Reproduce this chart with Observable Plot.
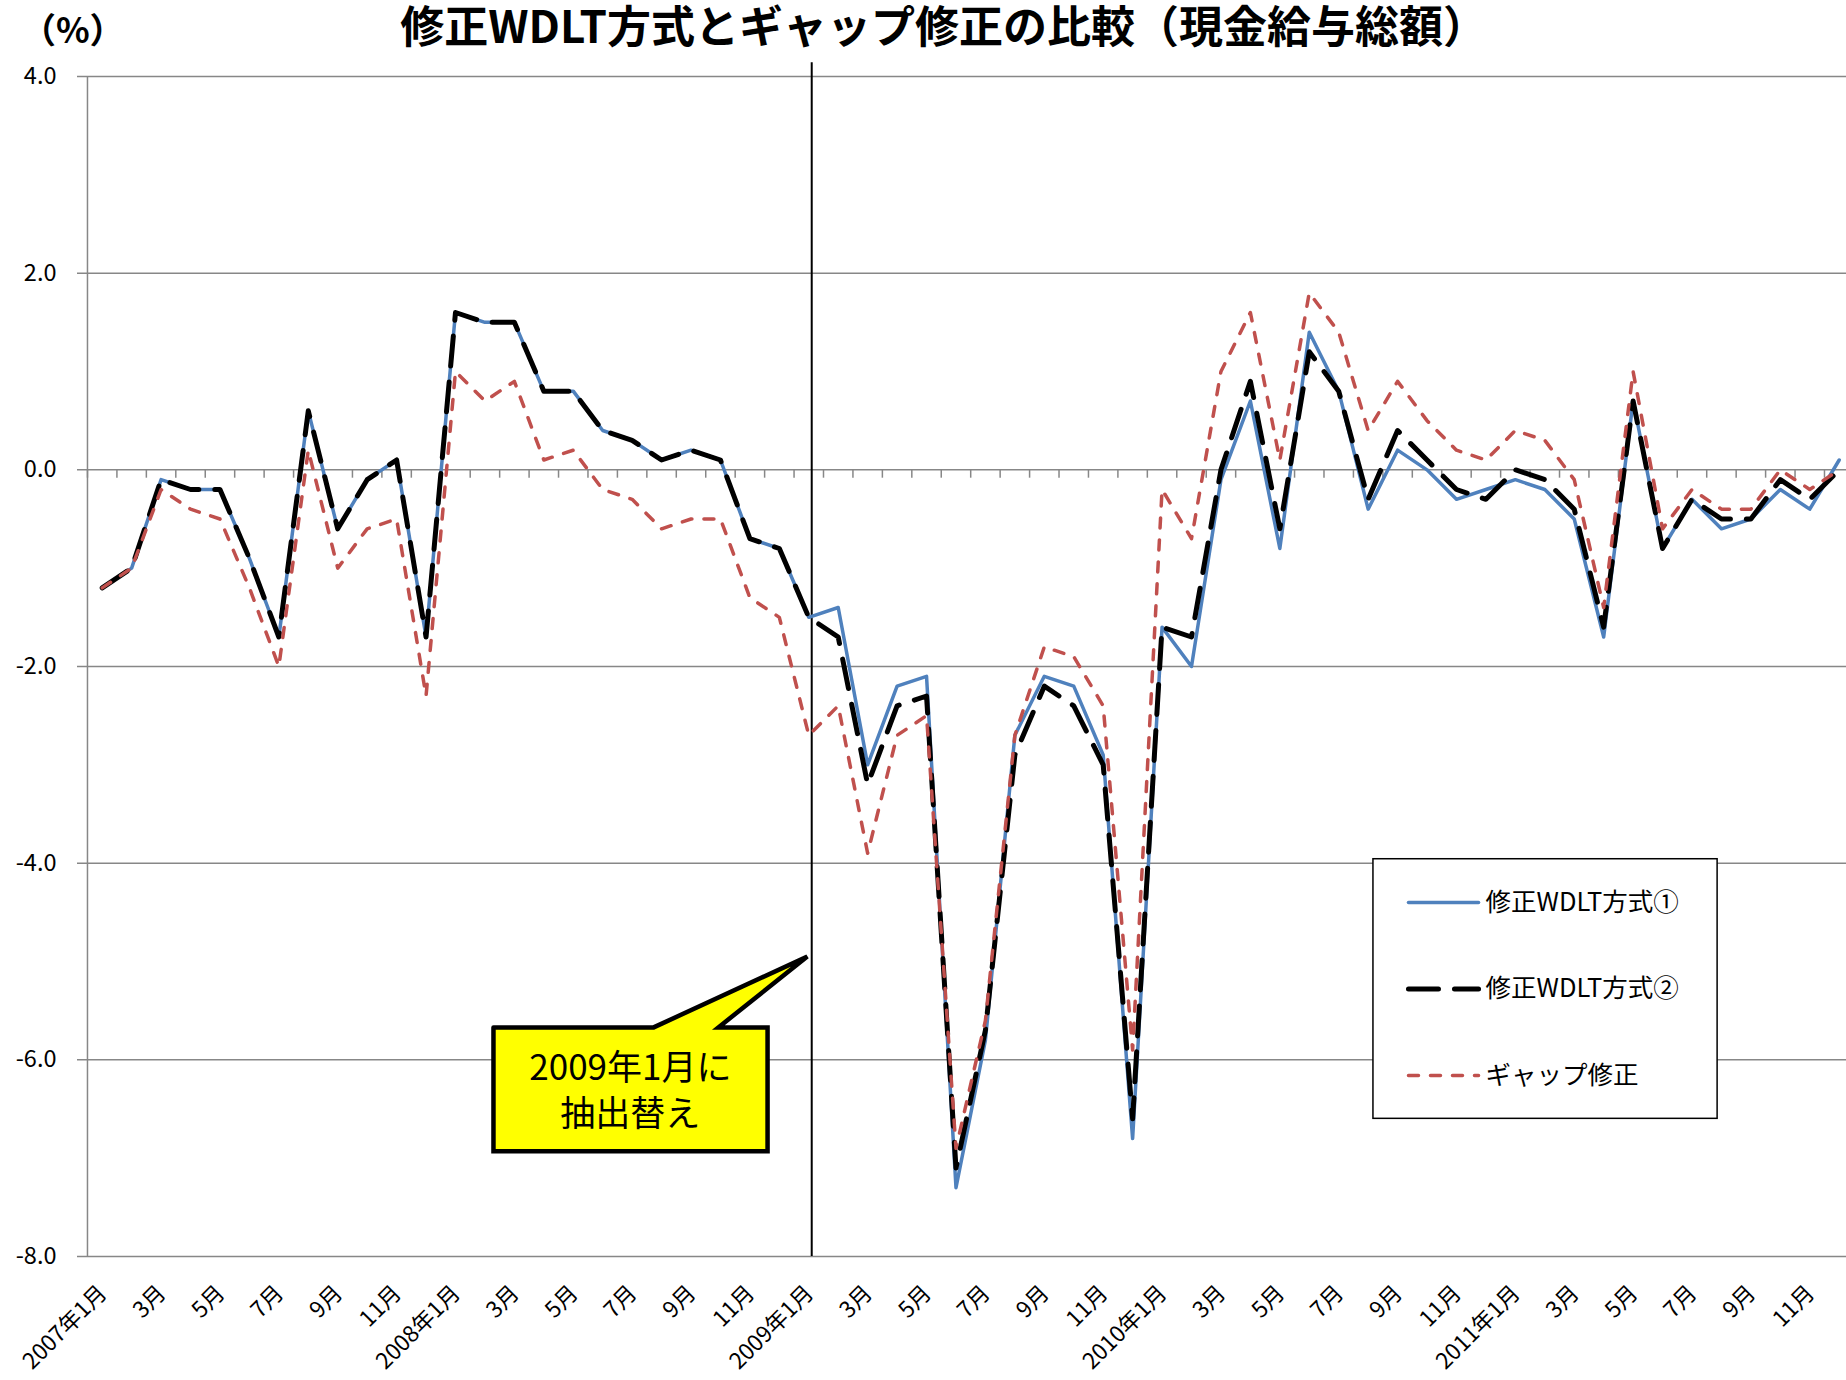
<!DOCTYPE html>
<html><head><meta charset="utf-8">
<script src="https://cdn.jsdelivr.net/npm/d3@7"></script>
<script src="https://cdn.jsdelivr.net/npm/@observablehq/plot@0.6"></script>
<style>html,body{margin:0;padding:0;background:#fff;overflow:hidden}</style>
</head><body><div id="chart"></div>
<script>
const monthLabels = [
  "2007年1月","2月","3月","4月","5月","6月","7月","8月","9月","10月","11月","12月",
  "2008年1月","2月","3月","4月","5月","6月","7月","8月","9月","10月","11月","12月",
  "2009年1月","2月","3月","4月","5月","6月","7月","8月","9月","10月","11月","12月",
  "2010年1月","2月","3月","4月","5月","6月","7月","8月","9月","10月","11月","12月",
  "2011年1月","2月","3月","4月","5月","6月","7月","8月","9月","10月","11月","12月"
];
const wdlt1 = [
  -1.2,-1.0,-0.1,-0.2,-0.2,-0.9,-1.7,0.6,-0.6,-0.1,0.1,-1.7,
  1.6,1.5,1.5,0.8,0.8,0.4,0.3,0.1,0.2,0.1,-0.7,-0.8,
  -1.5,-1.4,-3.0,-2.2,-2.1,-7.3,-5.8,-2.7,-2.1,-2.2,-2.9,-6.8,
  -1.6,-2.0,-0.1,0.7,-0.8,1.4,0.8,-0.4,0.2,0.0,-0.3,-0.2,
  -0.1,-0.2,-0.5,-1.7,0.7,-0.8,-0.3,-0.6,-0.5,-0.2,-0.4,0.1
];
const wdlt2 = [
  -1.2,-1.0,-0.1,-0.2,-0.2,-0.9,-1.7,0.6,-0.6,-0.1,0.1,-1.7,
  1.6,1.5,1.5,0.8,0.8,0.4,0.3,0.1,0.2,0.1,-0.7,-0.8,
  -1.5,-1.7,-3.2,-2.4,-2.3,-7.1,-5.7,-2.9,-2.2,-2.4,-3.0,-6.6,
  -1.6,-1.7,0.0,0.9,-0.6,1.2,0.8,-0.3,0.4,0.1,-0.2,-0.3,
  0.0,-0.1,-0.4,-1.6,0.7,-0.8,-0.3,-0.5,-0.5,-0.1,-0.3,0.0
];
const gapAdj = [
  -1.2,-1.0,-0.2,-0.4,-0.5,-1.2,-2.0,0.2,-1.0,-0.6,-0.5,-2.3,
  1.0,0.7,0.9,0.1,0.2,-0.2,-0.3,-0.6,-0.5,-0.5,-1.3,-1.5,
  -2.7,-2.4,-3.9,-2.7,-2.5,-6.9,-5.6,-2.7,-1.8,-1.9,-2.4,-5.9,
  -0.2,-0.7,1.0,1.6,0.1,1.8,1.4,0.4,0.9,0.5,0.2,0.1,
  0.4,0.3,-0.1,-1.4,1.0,-0.6,-0.2,-0.4,-0.4,0.0,-0.2,0.0
];
const seriesNames = ["修正WDLT方式①","修正WDLT方式②","ギャップ修正"];
const yTicks = [4,2,0,-2,-4,-6,-8];
const titleText = "修正WDLT方式とギャップ修正の比較（現金給与総額）";
const unitText = "（%）";
const calloutLines = ["2009年1月に","抽出替え"];

// annotation geometry in data units (month index, %)
const switchMonth = 24.1;
const callout = [
  {x:13.29,y:-5.67},{x:18.73,y:-5.67},{x:23.95,y:-4.95},{x:20.93,y:-5.67},
  {x:22.60,y:-5.67},{x:22.60,y:-6.93},{x:13.29,y:-6.93},{x:13.29,y:-5.67}
];
const legendBox = {x1:43.18, x2:54.87, y1:-3.96, y2:-6.60};
const legendRows = [-4.40,-5.28,-6.16];

const rows = vals => vals.map((v,i)=>({i,v}));
const ticks = monthLabels.map((label,i)=>({i,label})).filter(d=>d.i%2===0);
const numFont = "'Liberation Sans Narrow','Noto Sans CJK JP',sans-serif";
const jpFont = "'Noto Sans CJK JP',sans-serif";
const grid = "#878787";

const styles = [
  {stroke:"#4F81BD", strokeWidth:3.5},
  {stroke:"#000000", strokeWidth:5, strokeDasharray:"30,16"},
  {stroke:"#C0504D", strokeWidth:3.5, strokeDasharray:"10,12"}
];

const chart = Plot.plot({
  width:1846, height:1380,
  marginLeft:77, marginRight:0, marginTop:76, marginBottom:124,
  style:{background:"#fff", fontFamily:jpFont, color:"#000"},
  x:{axis:null, domain:[0,59], range:[101.7,1838.7]},
  y:{axis:null, domain:[-8,4], range:[1256,76]},
  marks:[
    Plot.ruleY(yTicks, {stroke:grid, strokeWidth:1.5}),
    Plot.ruleX([-0.5], {y1:-8, y2:4, stroke:grid, strokeWidth:1.5}),
    Plot.ruleX(d3.range(-0.5,60,1), {y1:0, y2:-0.085, stroke:grid, strokeWidth:1.5}),
    Plot.text(yTicks, {x:-0.5, y:d=>d, text:d=>d.toFixed(1), dx:-31, textAnchor:"end", fontSize:23.5, fontFamily:numFont}),
    Plot.text(ticks, {x:"i", y:-8, text:"label", rotate:-45, textAnchor:"end", dy:33, dx:1, fontSize:22.5, fontFamily:numFont}),
    Plot.ruleX([switchMonth], {y1:-8, y2:4.14, stroke:"#000", strokeWidth:2}),
    Plot.line(rows(wdlt1), {x:"i", y:"v", ...styles[0]}),
    Plot.line(rows(wdlt2), {x:"i", y:"v", ...styles[1]}),
    Plot.line(rows(gapAdj), {x:"i", y:"v", ...styles[2]}),
    Plot.line(callout, {x:"x", y:"y", fill:"#FFFF00", stroke:"#000", strokeWidth:4.5, strokeLinejoin:"miter", strokeMiterlimit:4}),
    Plot.text(calloutLines, {x:17.94, y:(d,i)=>[-6.09,-6.56][i], text:d=>d, fontSize:35, fontFamily:jpFont}),
    Plot.rect([legendBox], {x1:"x1", x2:"x2", y1:"y1", y2:"y2", fill:"#fff", stroke:"#000", strokeWidth:1.5}),
    ...seriesNames.map((name,k)=>Plot.line([{x:44.37,y:legendRows[k]},{x:46.75,y:legendRows[k]}], {x:"x", y:"y", ...styles[k]})),
    Plot.text(seriesNames, {x:46.99, y:(d,i)=>legendRows[i], text:d=>d, textAnchor:"start", fontSize:25.5, fontFamily:jpFont}),
    Plot.text([titleText], {x:28.58, y:4.48, text:d=>d, fontSize:44, fontWeight:"bold", fontFamily:jpFont}),
    Plot.text([unitText], {x:-1.0, y:4.45, text:d=>d, fontSize:35, fontWeight:"bold", fontFamily:jpFont})
  ]
});
document.getElementById("chart").append(chart);
</script></body></html>
